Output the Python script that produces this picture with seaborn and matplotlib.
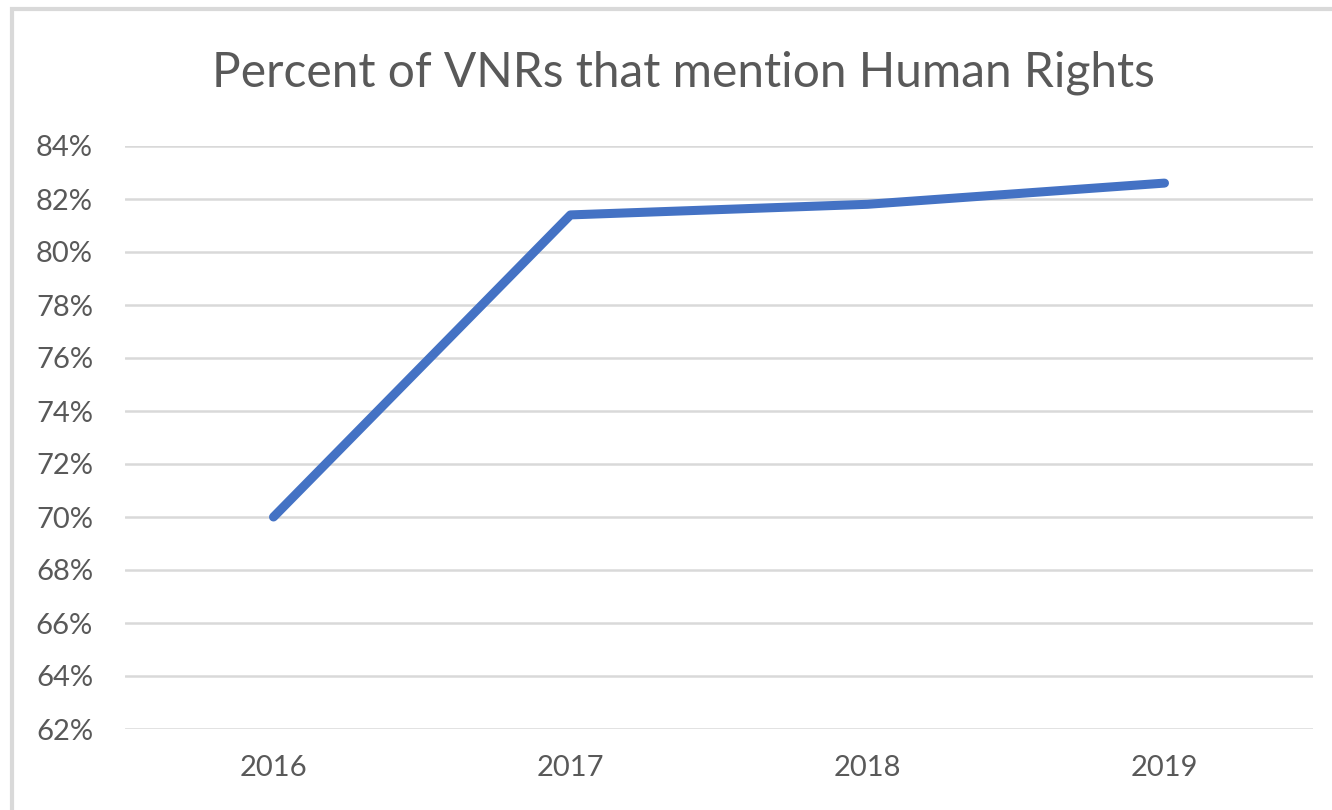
import matplotlib
matplotlib.use("Agg")
import matplotlib.pyplot as plt
import seaborn as sns
import pandas as pd
from matplotlib.patches import Rectangle
from matplotlib.ticker import FuncFormatter

years = ["2016", "2017", "2018", "2019"]
percent = [70.0, 81.4, 81.8, 82.6]
y_ticks = [62, 64, 66, 68, 70, 72, 74, 76, 78, 80, 82, 84]
title = "Percent of VNRs that mention Human Rights"

sns.set_theme(style="white")
plt.rcParams['font.family'] = ['Lato', 'DejaVu Sans']

df = pd.DataFrame({"year": years, "pct": percent})

fig = plt.figure(figsize=(13.32, 8.10), dpi=100)
ax = fig.add_axes([125/1332, 1 - 729/810, (1313-125)/1332, (729-146)/810])

# outer chart border (left and top visible)
fig.patches.append(Rectangle((12/1332, -0.05), 1.2, 1 - 9/810 + 0.05,
                             transform=fig.transFigure, fill=False,
                             edgecolor="#d9d9d9", linewidth=3, zorder=0))

sns.lineplot(data=df, x="year", y="pct", ax=ax, color="#4472C4",
             linewidth=6.5, sort=False, solid_capstyle="round",
             solid_joinstyle="round", zorder=3)

ax.set_xlim(-0.5, 3.5)
ax.set_ylim(62, 84)
ax.set_yticks(y_ticks)
ax.yaxis.set_major_formatter(FuncFormatter(lambda v, p: f"{v:.0f}%"))
ax.grid(axis="y", color="#d9d9d9", linewidth=1.8)
ax.set_axisbelow(True)
for s in ax.spines.values():
    s.set_visible(False)
ax.tick_params(axis="both", length=0, labelsize=21, labelcolor="#595959")
ax.tick_params(axis="y", pad=23)
ax.tick_params(axis="x", pad=19)
ax.set_xlabel("")
ax.set_ylabel("")

fig.text(683/1332, 1 - 73/810, title, ha="center", va="center",
         fontsize=34.5, color="#595959")

fig.savefig("out.png", dpi=100)
